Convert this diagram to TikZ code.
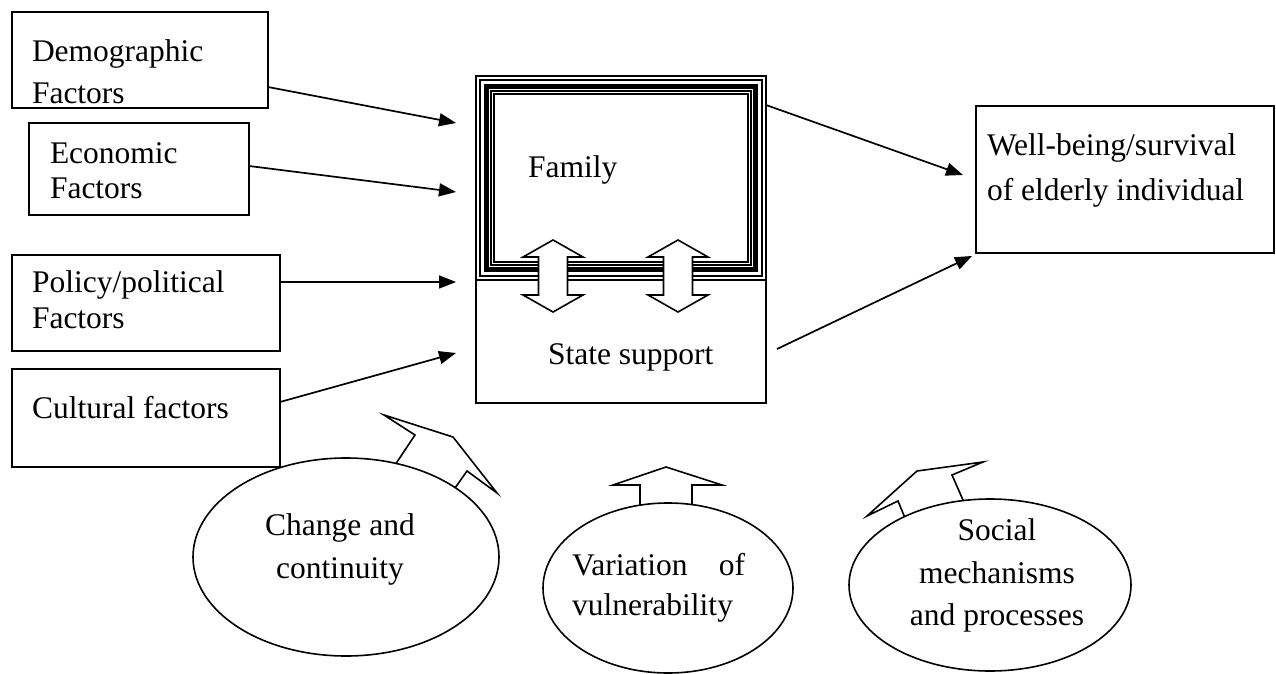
\documentclass[tikz,border=0pt]{standalone}
\usepackage{fontspec}
\setmainfont{Liberation Serif}
\usetikzlibrary{arrows.meta,shapes.geometric}
\begin{document}
\begin{tikzpicture}[x=1pt,y=-1pt,
  box/.style={draw, line width=1.7pt, fill=white, inner sep=0pt, outer sep=0pt, anchor=north west},
  lbl/.style={anchor=base west, inner sep=0pt, outer sep=0pt, font=\fontsize{31.5}{41}\selectfont},
  clbl/.style={anchor=base, inner sep=0pt, outer sep=0pt, font=\fontsize{31.5}{41}\selectfont},
  conn/.style={line width=1.7pt, -{Triangle[length=17pt,width=13pt]}},
  blk/.style={draw, line width=1.6pt, fill=white, line join=miter},
  oval/.style={draw, ellipse, line width=1.6pt, fill=white, inner sep=0pt, outer sep=0pt},
  frm/.style={line width=#1}
]
\useasboundingbox (0,0) rectangle (1276,674);

% left factor boxes
\node[box, minimum width=256pt, minimum height=96pt] (demo) at (12,12) {};
\node[lbl] (demoA) at (32,62) {Demographic};
\node[lbl] (demoB) at (32,103) {Factors};

\node[box, minimum width=220pt, minimum height=92pt] (econ) at (29,123) {};
\node[lbl] (econA) at (50,163) {Economic};
\node[lbl] (econB) at (50,198) {Factors};

\node[box, minimum width=268pt, minimum height=96pt] (poli) at (12,255) {};
\node[lbl] (poliA) at (32,292) {Policy/political};
\node[lbl] (poliB) at (32,328) {Factors};

\node[box, minimum width=268pt, minimum height=98pt] (cult) at (12,369) {};
\node[lbl] (cultA) at (32,418) {Cultural factors};

% central box
\node[box, minimum width=290pt, minimum height=327pt] (main) at (476,76) {};
\foreach \d/\w in {0/1.7, 4/1.4, 10.5/5, 15/1.4, 18/1.6}
  \draw[frm=\w pt] (476+\d,76+\d) rectangle (766-\d,280-\d);
\node[lbl] (fam) at (528,177) {Family};
\node[lbl] (state) at (548,364) {State support};

% double arrows between family and state support
\foreach \cx in {553,678}
  \draw[blk] (\cx,240) -- (\cx+30,257) -- (\cx+14.5,257) -- (\cx+14.5,295) -- (\cx+30,295)
     -- (\cx,312) -- (\cx-30,295) -- (\cx-14.5,295) -- (\cx-14.5,257) -- (\cx-30,257) -- cycle;

% outcome box
\node[box, minimum width=298pt, minimum height=147pt] (wb) at (976,106) {};
\node[lbl] (wbA) at (987,155) {Well-being/survival};
\node[lbl] (wbB) at (987,200) {of elderly individual};

% connectors
\coordinate (t1) at (456,123);
\coordinate (t2) at (456,192);
\coordinate (t3) at (456,282);
\coordinate (t4) at (456,353);
\coordinate (t5) at (963,175);
\coordinate (s6) at (777,349);
\coordinate (t6) at (972,256);
\draw[conn] ([yshift=-27pt]demo.east) -- (t1);
\draw[conn] ([yshift=3pt]econ.east) -- (t2);
\draw[conn] ([yshift=21pt]poli.east) -- (t3);
\draw[conn] ([yshift=16pt]cult.east) -- (t4);
\draw[conn] ([yshift=134.5pt]main.east) -- (t5);
\draw[conn] (s6) -- (t6);

% block arrows (bases hidden by the ellipses)
\draw[blk] (385,480) -- (395,465) -- (415,435) -- (384,415) -- (453,437) -- (497,493) -- (467,471) -- (455,488) -- (445,503);
\draw[blk] (640,525) -- (640,485) -- (613,485) -- (666,467) -- (722,485) -- (692,485) -- (692,525);
\draw[blk] (910,530) -- (898,501) -- (867,516) -- (917,471) -- (983,462) -- (952,475) -- (970,516);

% ellipses
\node[oval, minimum width=306pt, minimum height=198pt] (chg) at (346,557) {};
\node[clbl] (chgA) at (340,535) {Change and};
\node[clbl] (chgB) at (340,578) {continuity};

\node[oval, minimum width=250pt, minimum height=170pt] (var) at (668,588) {};
\node[lbl] (varA) at (572,575) {\hbox to 173pt{Variation\hfil of}};
\node[lbl] (varB) at (572,615) {vulnerability};

\node[oval, minimum width=282pt, minimum height=172pt] (soc) at (990,585) {};
\node[clbl] (socA) at (997,540) {Social};
\node[clbl] (socB) at (997,583) {mechanisms};
\node[clbl] (socC) at (997,625) {and processes};
\end{tikzpicture}
\end{document}
